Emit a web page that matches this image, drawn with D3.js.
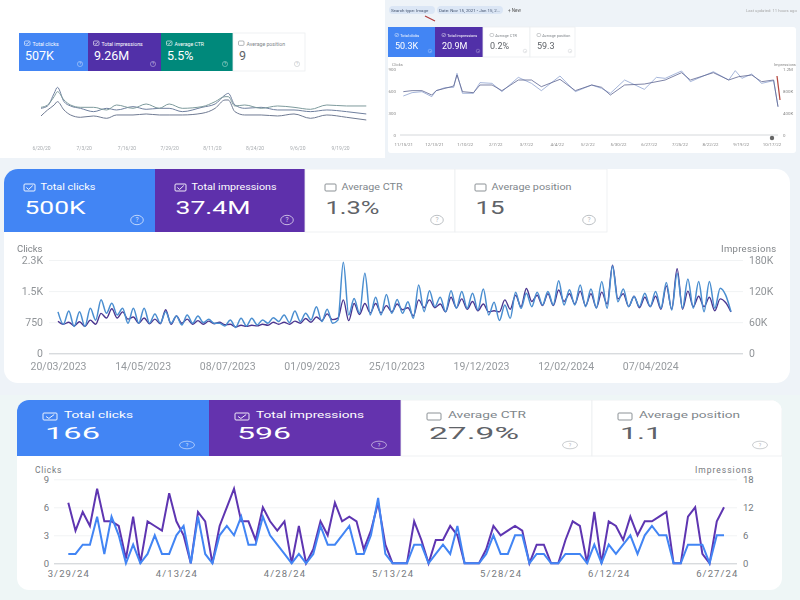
<!DOCTYPE html>
<html>
<head>
<meta charset="utf-8">
<script src="https://cdn.jsdelivr.net/npm/d3@7"></script>
<style>
  html, body { margin: 0; padding: 0; background: #fff; }
  svg { display: block; font-family: Roboto, "Open Sans", sans-serif; }
</style>
</head>
<body>
<div id="chart"></div>
<script>
// panel A (top left): no visible axis, values in arbitrary height units
const aDays = [0,2,4,5,7,9,12,16,20,23,28,32,36,39,43,49,53,56,57,59,62,67,72,77,82,87,93,99];
const aTeal = [48,55,80,95,70,55,48,48,40,55,45,58,45,58,45,50,65,80,80,52,55,45,52,48,42,55,52,52];
const aBlue = [45,52,90,108,65,52,45,35,45,40,50,42,45,45,35,48,58,85,90,55,45,48,40,40,35,40,35,28];
const aPurple = [22,40,55,65,40,25,18,22,15,25,25,28,25,25,25,30,45,70,70,35,25,25,22,28,15,25,18,10];
const aTickDays = [0,13,26,39,52,65,78,91];
const aTickLabels = ['6/20/20','7/3/20','7/16/20','7/29/20','8/11/20','8/24/20','9/6/20','9/19/20'];
const aTileLabels = ['Total clicks','Total impressions','Average CTR','Average position'];
const aTileValues = ['507K','9.26M','5.5%','9'];

// panel B (top right)
const bClickDays = [0,8,17,26,30,38,46,49,54,64,70,81,90,105,117,126,143,157,172,181,189,202,220,239,254,262,283,297,306,318,327,338,342];
const bClicks = [591,605,605,545,605,636,668,818,591,577,682,682,605,750,750,659,759,605,682,650,545,682,695,750,850,750,850,750,795,818,727,750,386];
const bImprDays = [0,8,17,26,30,38,46,49,54,64,70,81,90,105,117,126,143,157,172,181,189,202,220,231,239,254,262,283,297,303,309,318,327,338,342];
const bImprK = [709,770,788,697,806,861,867,1121,758,758,952,939,788,1048,939,806,1073,788,909,848,758,1000,830,1048,1030,1164,970,1151,1000,1170,1030,1109,939,988,515];
const bTickDays = [0,28,56,84,112,140,168,196,224,252,280,308,336];
const bTickLabels = ['11/15/21','12/13/21','1/10/22','2/7/22','3/7/22','4/4/22','5/2/22','5/30/22','6/27/22','7/25/22','8/22/22','9/19/22','10/17/22'];
const bLeftTicks = [0,300,600,900];
const bRightTicks = [0,400,800,1200];
const bRightLabels = ['0','400K','800K','1.2M'];
const bTileLabels = ['Total clicks','Total impressions','Average CTR','Average position'];
const bTileValues = ['50.3K','20.9M','0.2%','59.3'];

// panel C (middle), one value every half week
const cClicks = [1000,700,1020,645,1005,645,1085,800,1290,965,1205,925,1085,725,1085,725,1085,725,950,725,1005,725,900,685,925,725,900,740,820,725,725,660,805,625,845,660,845,685,805,725,860,765,925,740,1020,765,965,805,1125,765,1060,725,800,2195,925,1320,965,1930,925,1350,925,1420,965,1300,965,
  1245,845,1650,1005,1510,1125,1350,1005,1510,1085,1490,1085,1450,1045,1550,925,1230,790,1165,845,1470,1085,1450,1125,1470,1165,1490,1165,1750,1165,1530,1165,1650,1125,1550,1085,1730,1085,2106,1245,1550,1125,1370,1125,1450,1125,1490,1085,1710,1045,1930,1085,1790,1085,1730,1005,1730,1085,1570,1410,1005];
const cImprK = [62,56,60,53,61,52,64,56,77,68,86,68,80,66,70,58,68,57,66,57,84,56,72,58,66,56,63,56,62,57,60,55,56,51,54,52,54,53,56,54,60,56,60,56,62,58,67,60,70,63,76,65,68,103,63,96,75,96,78,96,78,92,80,95,84,
  88,72,103,88,103,88,95,80,108,88,105,85,100,82,95,80,82,80,103,85,112,90,125,100,112,92,115,92,122,100,115,95,120,92,115,88,118,95,170,105,115,90,110,88,108,90,110,85,130,85,163,85,120,90,110,90,108,82,105,98,80];
const cTickDays = [0,55,110,165,220,275,330,385];
const cTickLabels = ['20/03/2023','14/05/2023','08/07/2023','01/09/2023','25/10/2023','19/12/2023','12/02/2024','07/04/2024'];
const cLeftTicks = [0,750,1500,2250];
const cLeftLabels = ['0','750','1.5K','2.3K'];
const cRightTicks = [0,60,120,180];
const cRightLabels = ['0','60K','120K','180K'];
const cTileLabels = ['Total clicks','Total impressions','Average CTR','Average position'];
const cTileValues = ['500K','37.4M','1.3%','15'];

// panel D (bottom), daily values
const dClicks = [1,1,2,2,5,1,5,3,0,2,0,1,3,1,1,3,4,0,5,1,0,3,4,3,5,2,2,5,3,2,1,0,1,0,1,4,2,2,3,4,1,1,3,7,1,0,
  0,0,2,2,0,1,2,1,4,0,0,0,1,3,1,1,3,3,0,1,1,0,0,1,1,1,0,2,0,2,1,2,3,1,3,4,3,3,0,0,2,2,2,0,3,3];
const dImpressions = [13,7,11,8,16,9,9,8,1,10,0,9,8,7,15,9,6,0,11,9,0,8,12,16,9,9,5,12,9,7,9,0,8,0,3,9,6,13,9,10,9,3,7,13,4,0,
  0,0,9,5,0,5,5,8,6,0,0,0,3,8,6,7,8,7,0,4,4,0,0,5,9,8,0,11,0,9,8,5,10,6,9,9,10,11,0,0,10,12,2,0,9,12];
const dTickDays = [0,15,30,45,60,75,90];
const dTickLabels = ['3/29/24','4/13/24','4/28/24','5/13/24','5/28/24','6/12/24','6/27/24'];
const dLeftTicks = [0,3,6,9];
const dRightTicks = [0,6,12,18];
const dTileLabels = ['Total clicks','Total impressions','Average CTR','Average position'];
const dTileValues = ['166','596','27.9%','1.1'];

const svg = d3.select('#chart').append('svg')
  .attr('width', 800)
  .attr('height', 600)
  .attr('viewBox', '0 0 800 600');

const BLUE = '#4285f4', PURPLE = '#5e35b1', TEAL = '#00897b';
const defs = svg.append('defs');

// backgrounds
svg.append('rect').attr('width', 800).attr('height', 600).attr('fill', '#eef3f8');
svg.append('rect').attr('y', 395).attr('width', 800).attr('height', 205).attr('fill', '#eef6f6');
svg.append('rect').attr('width', 385).attr('height', 158).attr('fill', '#fff');

function card(parent, id, x, y, w, h, r) {
  parent.append('rect').attr('x', x).attr('y', y).attr('width', w).attr('height', h).attr('rx', r).attr('fill', '#fff');
  defs.append('clipPath').attr('id', id).append('rect')
    .attr('x', x).attr('y', y).attr('width', w).attr('height', h).attr('rx', r);
}

// one row of metric tiles, o holds the sizes for that panel
function tiles(parent, o) {
  const g = parent.append('g');
  if (o.clip) g.attr('clip-path', `url(#${o.clip})`);
  o.labels.forEach((label, i) => {
    const x0 = o.xs[i], x1 = o.xs[i + 1];
    const on = i < o.fills.length;
    g.append('rect').attr('x', x0).attr('y', o.y0).attr('width', x1 - x0).attr('height', o.y1 - o.y0)
      .attr('fill', on ? o.fills[i] : '#fff').attr('stroke', on ? 'none' : '#eceef0').attr('stroke-width', 0.8);
    const ink = on ? '#fff' : '#80868b';
    const bx = x0 + o.pad, by = o.boxY, w = o.boxW, h = o.boxH;
    g.append('rect').attr('x', bx).attr('y', by).attr('width', w).attr('height', h).attr('rx', 1)
      .attr('fill', 'none').attr('stroke', ink).attr('stroke-width', o.boxStroke);
    if (on) {
      g.append('path')
        .attr('d', `M${bx + w * 0.22},${by + h * 0.5}L${bx + w * 0.42},${by + h * 0.78}L${bx + w * 0.8},${by + h * 0.22}`)
        .attr('fill', 'none').attr('stroke', ink).attr('stroke-width', o.boxStroke);
    }
    const lab = g.append('text').attr('x', bx + o.labelDx).attr('y', o.labelY).attr('font-size', o.labelSize)
      .attr('fill', ink).text(label);
    if (o.labelW) lab.attr('textLength', o.labelW[i]).attr('lengthAdjust', 'spacingAndGlyphs');
    const val = g.append('text').attr('x', bx + o.valueDx).attr('y', o.valueY).attr('font-size', o.valueSize)
      .attr('fill', on ? '#fff' : '#5f6368').text(o.values[i]);
    if (o.valueW) val.attr('textLength', o.valueW[i]).attr('lengthAdjust', 'spacingAndGlyphs');
    const hx = x1 - o.helpDx, hy = o.helpY;
    g.append('ellipse').attr('cx', hx).attr('cy', hy).attr('rx', o.helpRx).attr('ry', o.helpRy)
      .attr('fill', 'none').attr('stroke', on ? '#fff' : '#9aa0a6').attr('stroke-opacity', 0.7).attr('stroke-width', o.helpRy / 5);
    g.append('text').attr('x', hx).attr('y', hy + o.helpRy * 0.5).attr('text-anchor', 'middle')
      .attr('font-size', o.helpRy * 1.4).attr('fill', on ? '#fff' : '#9aa0a6').attr('fill-opacity', 0.8).text('?');
  });
}

function styleAxis(sel, color, size) {
  sel.select('.domain').remove();
  sel.selectAll('.tick text').attr('fill', color).attr('font-size', size).attr('font-family', 'Roboto, sans-serif');
}

// ----- panel A -----
const gA = svg.append('g').style('filter', 'blur(0.6px)');
tiles(gA, {
  xs: [19, 88, 161, 233, 305], y0: 33, y1: 71, fills: [BLUE, '#5130a8', TEAL],
  labels: aTileLabels, values: aTileValues, pad: 5.5, boxY: 41, boxW: 5.5, boxH: 4.4, boxStroke: 0.6,
  labelDx: 8, labelY: 45.5, labelSize: 5.2,
  valueDx: 0.5, valueY: 60, valueSize: 12.5, helpDx: 8, helpY: 64, helpRx: 2.6, helpRy: 2.6
});
const xA = d3.scaleLinear().domain([0, 91]).range([41, 340]);
const yA = d3.scaleLinear().domain([0, 100]).range([123.3, 90]);
const lineA = d3.line().x((d, i) => xA(aDays[i])).y(d => yA(d)).curve(d3.curveMonotoneX);
[[aPurple, '#6f7a92'], [aBlue, '#6f7f9e'], [aTeal, '#7d9a9c']].forEach(([vals, col]) => {
  gA.append('path').attr('d', lineA(vals)).attr('fill', 'none').attr('stroke', col).attr('stroke-width', 1);
});
gA.append('g').attr('transform', 'translate(0,143)')
  .call(d3.axisBottom(xA).tickValues(aTickDays).tickSize(0).tickFormat((d, i) => aTickLabels[i]))
  .call(styleAxis, '#a8acb0', 5);

// ----- panel B -----
const gB = svg.append('g').style('filter', 'blur(0.6px)');
gB.append('rect').attr('x', 388).attr('y', 27).attr('width', 408).attr('height', 126).attr('rx', 3).attr('fill', '#fff');
[[389, 46, 'Search type: Image'], [437, 66, 'Date: Nov 15, 2021 - Jan 15, 2...']].forEach(([x, w, t]) => {
  gB.append('rect').attr('x', x).attr('y', 6).attr('width', w).attr('height', 8).attr('rx', 4).attr('fill', '#dbe6f5');
  gB.append('text').attr('x', x + 2).attr('y', 12).attr('font-size', 4.4).attr('fill', '#44546f').text(t);
});
gB.append('text').attr('x', 508).attr('y', 12).attr('font-size', 4.6).attr('fill', '#555').text('+ New');
gB.append('text').attr('x', 746).attr('y', 12).attr('font-size', 4.2).attr('fill', '#aaa').text('Last updated: 11 hours ago');
tiles(gB, {
  xs: [388, 435, 483, 530, 575], y0: 27, y1: 57, fills: [BLUE, '#5130a8'],
  labels: bTileLabels, values: bTileValues, pad: 7, boxY: 33.5, boxW: 3.6, boxH: 3, boxStroke: 0.4,
  labelDx: 5.2, labelY: 37, labelSize: 3.8,
  valueDx: 0, valueY: 49, valueSize: 9, helpDx: 5, helpY: 51, helpRx: 1.8, helpRy: 1.8
});
const xB = d3.scaleLinear().domain([0, 342]).range([403.3, 778]);
const yBL = d3.scaleLinear().domain([0, 900]).range([135, 69]);
const yBR = d3.scaleLinear().domain([0, 1200]).range([135, 69]);
gB.append('g').attr('transform', 'translate(399,0)')
  .call(d3.axisLeft(yBL).tickValues(bLeftTicks).tickSize(0))
  .call(styleAxis, '#888', 4.4);
gB.append('g').attr('transform', 'translate(780,0)')
  .call(d3.axisRight(yBR).tickValues(bRightTicks).tickSize(0).tickFormat((d, i) => bRightLabels[i]))
  .call(styleAxis, '#888', 4.4);
gB.append('g').attr('transform', 'translate(0,135)')
  .call(d3.axisBottom(xB).tickValues(bTickDays).tickSize(0).tickPadding(8).tickFormat((d, i) => bTickLabels[i]))
  .call(styleAxis, '#888', 4.4);
gB.append('line').attr('x1', 400).attr('x2', 778).attr('y1', 135).attr('y2', 135).attr('stroke', '#d5d8db');
gB.append('text').attr('x', 392).attr('y', 66).attr('font-size', 4).attr('fill', '#888').text('Clicks');
gB.append('text').attr('x', 774).attr('y', 66).attr('font-size', 4).attr('fill', '#888').text('Impressions');
gB.append('circle').attr('cx', 772).attr('cy', 138).attr('r', 2.2).attr('fill', '#666');
gB.append('path').attr('d', d3.line().x((d, i) => xB(bImprDays[i])).y(d => yBR(d))(bImprK))
  .attr('fill', 'none').attr('stroke', '#8fa3d0').attr('stroke-width', 0.8);
gB.append('path').attr('d', d3.line().x((d, i) => xB(bClickDays[i])).y(d => yBL(d))(bClicks))
  .attr('fill', 'none').attr('stroke', '#5d6490').attr('stroke-width', 0.8);
gB.append('path').attr('d', 'M425,16L435,21').attr('stroke', '#b03a3a').attr('stroke-width', 1.2);
gB.append('path').attr('d', 'M777,76L780,100').attr('stroke', '#b5483f').attr('stroke-width', 1.2);

// ----- panel C -----
const gC = svg.append('g').style('filter', 'blur(0.3px)');
card(gC, 'clipC', 4, 169, 786, 214, 14);
tiles(gC, {
  clip: 'clipC', xs: [4, 155, 305, 455, 607], y0: 169, y1: 232, fills: [BLUE, '#5e30ab'],
  labels: cTileLabels, values: cTileValues, pad: 20, boxY: 184, boxW: 11, boxH: 7, boxStroke: 0.9,
  labelDx: 16.5, labelY: 190, labelSize: 9, labelW: [55, 85, 61, 80],
  valueDx: 0.5, valueY: 214, valueSize: 19, valueW: [61, 75, 54, 29], helpDx: 18, helpY: 220, helpRx: 6.3, helpRy: 4.7
});
const xC = d3.scaleLinear().domain([0, 440]).range([58, 734.8]);
const yCL = d3.scaleLinear().domain([0, 2250]).range([353.3, 260]);
const yCR = d3.scaleLinear().domain([0, 180]).range([353.3, 260]);
gC.append('g').attr('transform', 'translate(49,0)')
  .call(d3.axisLeft(yCL).tickValues(cLeftTicks).tickSize(-694).tickPadding(6).tickFormat((d, i) => cLeftLabels[i]))
  .call(styleAxis, '#909498', 10.5)
  .call(a => a.selectAll('.tick line').attr('stroke', d => d === 0 ? '#c8ccd0' : '#f1f3f4'));
gC.append('g').attr('transform', 'translate(743,0)')
  .call(d3.axisRight(yCR).tickValues(cRightTicks).tickSize(0).tickPadding(6).tickFormat((d, i) => cRightLabels[i]))
  .call(styleAxis, '#909498', 10.5);
gC.append('g').attr('transform', 'translate(0,353.3)')
  .call(d3.axisBottom(xC).tickValues(cTickDays).tickSize(0).tickPadding(9).tickFormat((d, i) => cTickLabels[i]))
  .call(styleAxis, '#969a9e', 10.5);
gC.append('text').attr('x', 17).attr('y', 252).attr('font-size', 9.5).attr('fill', '#808488').text('Clicks');
gC.append('text').attr('x', 721).attr('y', 252).attr('font-size', 9.5).attr('letter-spacing', 0.3).attr('fill', '#808488').text('Impressions');
const xCi = (d, i) => xC(i * 3.5);
gC.append('path').attr('d', d3.line().x(xCi).y(d => yCR(d)).curve(d3.curveMonotoneX)(cImprK))
  .attr('fill', 'none').attr('stroke', '#4a358f').attr('stroke-width', 1.4);
gC.append('path').attr('d', d3.line().x(xCi).y(d => yCL(d)).curve(d3.curveMonotoneX)(cClicks))
  .attr('fill', 'none').attr('stroke', '#4a8ed0').attr('stroke-width', 1.5);

// ----- panel D -----
const gD = svg.append('g');
card(gD, 'clipD', 17, 400, 765, 190, 12);
tiles(gD, {
  clip: 'clipD', xs: [17, 209, 401, 592, 782], y0: 400, y1: 456, fills: [BLUE, '#6433ae'],
  labels: dTileLabels, values: dTileValues, pad: 26, boxY: 413, boxW: 14, boxH: 7, boxStroke: 0.9,
  labelDx: 21, labelY: 418, labelSize: 8.5, labelW: [69, 108, 78, 101],
  valueDx: 2, valueY: 439, valueSize: 17, valueW: [55, 54, 90, 42], helpDx: 22, helpY: 445, helpRx: 7.5, helpRy: 3.8
});
const xD = d3.scaleLinear().domain([0, 91]).range([68.3, 724]);
const yDL = d3.scaleLinear().domain([0, 9]).range([563.3, 479.3]);
const yDR = d3.scaleLinear().domain([0, 18]).range([563.3, 479.3]);
gD.append('g').attr('transform', 'translate(54,0)')
  .call(d3.axisLeft(yDL).tickValues(dLeftTicks).tickSize(-683).tickPadding(5))
  .call(styleAxis, '#75797d', 9.5)
  .call(a => a.selectAll('.tick line').attr('stroke', d => d === 0 ? '#c8ccd0' : '#f1f3f4'));
gD.append('g').attr('transform', 'translate(737,0)')
  .call(d3.axisRight(yDR).tickValues(dRightTicks).tickSize(0).tickPadding(6))
  .call(styleAxis, '#75797d', 9.5);
gD.append('g').attr('transform', 'translate(0,563.3)')
  .call(d3.axisBottom(xD).tickValues(dTickDays).tickSize(0).tickPadding(7).tickFormat((d, i) => dTickLabels[i]))
  .call(styleAxis, '#75797d', 9.5)
  .call(a => a.selectAll('.tick text').attr('letter-spacing', 1.1));
gD.append('text').attr('x', 35).attr('y', 473).attr('font-size', 8.5).attr('letter-spacing', 0.7).attr('fill', '#75797d').text('Clicks');
gD.append('text').attr('x', 695).attr('y', 473).attr('font-size', 8.5).attr('letter-spacing', 1).attr('fill', '#75797d').text('Impressions');
gD.append('path').attr('d', d3.line().x((d, i) => xD(i)).y(d => yDR(d))(dImpressions))
  .attr('fill', 'none').attr('stroke', PURPLE).attr('stroke-width', 2);
gD.append('path').attr('d', d3.line().x((d, i) => xD(i)).y(d => yDL(d))(dClicks))
  .attr('fill', 'none').attr('stroke', BLUE).attr('stroke-width', 2);
</script>
</body>
</html>
